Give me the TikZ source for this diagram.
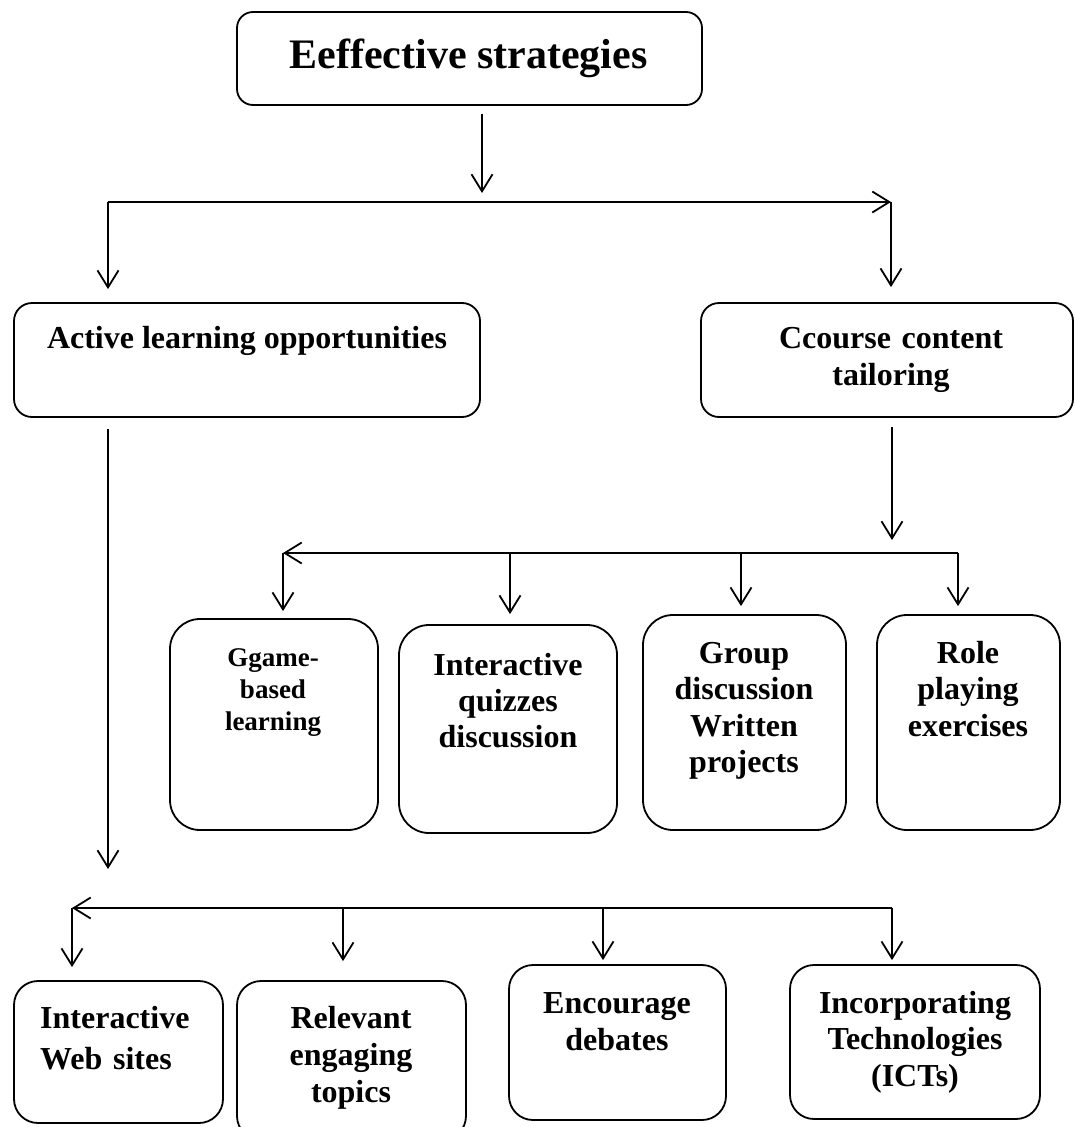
\documentclass[tikz,border=0pt]{standalone}
\usepackage{fontspec}
\setmainfont{Liberation Serif}
\usetikzlibrary{arrows.meta,calc}
\newcommand\fsz[2]{\fontsize{#1}{#2}\selectfont\bfseries}
\begin{document}
\begin{tikzpicture}[x=1pt,y=-1pt,
  box/.style={draw, line width=1.8pt, rounded corners=#1, inner sep=0pt},
  box/.default=20pt,
  con/.style={line width=1.8pt, -{Straight Barb[length=17pt,width=21pt]}},
  bar/.style={line width=2.8pt},
  txt/.style={inner sep=0pt, anchor=base, align=center}]
\useasboundingbox (0,0) rectangle (1075,1127);

% boxes
\node[box=16pt, minimum width=465pt, minimum height=93pt] (title) at (469.5,58.5) {};
\node[box=18pt, minimum width=466pt, minimum height=114pt] (active) at (247,360) {};
\node[box=18pt, minimum width=372pt, minimum height=114pt] (ccourse) at (887,360) {};
\node[box=30pt, minimum width=208pt, minimum height=211pt] (ggame) at (274,724.5) {};
\node[box=30pt, minimum width=218pt, minimum height=208pt] (quiz) at (508,729) {};
\node[box=30pt, minimum width=203pt, minimum height=215pt] (group) at (744.5,722.5) {};
\node[box=30pt, minimum width=183pt, minimum height=215pt] (role) at (968.5,722.5) {};
\node[box=24pt, minimum width=209pt, minimum height=142pt] (web) at (118.5,1052) {};
\node[box=24pt, minimum width=229pt, minimum height=159pt] (rel) at (351.5,1060.5) {};
\node[box=24pt, minimum width=217pt, minimum height=155pt] (enc) at (617.5,1042.5) {};
\node[box=24pt, minimum width=250pt, minimum height=154pt] (inc) at (915,1042) {};

% texts
\node[txt, font=\fsz{42}{50}] (titlet) at (468.5,68) {Eeffective strategies};
\node[txt, font=\fsz{32}{36}] (activet) at (247,348) {Active learning opportunities};
\node[txt, font=\fsz{32}{37}, text width=330pt] (ccourset) at (891,348) {Ccourse content\\tailoring};
\node[txt, font=\fsz{27}{32}, text width=200pt] (ggamet) at (273,666) {Ggame-\\based\\learning};
\node[txt, font=\fsz{32}{36}, text width=210pt] (quizt) at (508,675) {Interactive\\quizzes\\discussion};
\node[txt, font=\fsz{32}{36.5}, text width=200pt] (groupt) at (744,663) {Group\\discussion\\Written\\projects};
\node[txt, font=\fsz{32}{36.5}, text width=180pt] (rolet) at (968,663) {Role\\playing\\exercises};
\node[txt, font=\fsz{32}{41}, text width=180pt, align=left, anchor=base west] (webt) at (40,1028) {Interactive\\Web sites};
\node[txt, font=\fsz{32}{37}, text width=220pt] (relt) at (351,1028) {Relevant\\engaging\\topics};
\node[txt, font=\fsz{32}{37}, text width=210pt] (enct) at (617,1013) {Encourage\\debates};
\node[txt, font=\fsz{32}{36.5}, text width=240pt] (inct) at (915,1013) {Incorporating\\Technologies\\(ICTs)};

% junction coordinates
\coordinate (b1l) at (108,202);
\coordinate (b1r) at (891,202);
\coordinate (b1m) at (482,202);
\coordinate (b2l) at (283,553);
\coordinate (b2r) at (958,553);
\coordinate (b2m) at (892,553);
\coordinate (b2q) at (510,553);
\coordinate (b2g) at (741,553);
\coordinate (b3l) at (72,908);
\coordinate (b3r) at (892,908);
\coordinate (b3m) at (108,908);
\coordinate (b3r2) at (343,908);
\coordinate (b3e) at (603,908);

% level 1
\draw[con] ($(title.south -| b1m)+(0,8)$) -- ($(b1m)+(0,-9)$);
\draw[bar, con] (b1l) -- (b1r);
\draw[con] (b1l) -- ($(active.north -| b1l)+(0,-13)$);
\draw[con] (b1r) -- ($(ccourse.north -| b1r)+(0,-15)$);

% level 2 (course content)
\draw[con] ($(ccourse.south -| b2m)+(0,9)$) -- ($(b2m)+(0,-13)$);
\draw[bar, con] (b2r) -- (b2l);
\draw[con] (b2l) -- ($(ggame.north -| b2l)+(0,-7)$);
\draw[con] (b2q) -- ($(quiz.north -| b2q)+(0,-10)$);
\draw[con] (b2g) -- ($(group.north -| b2g)+(0,-8)$);
\draw[con] (b2r) -- ($(role.north -| b2r)+(0,-8)$);

% level 2 (active learning)
\draw[con] ($(active.south -| b3m)+(0,11)$) -- ($(b3m)+(0,-39)$);
\draw[bar, con] (b3r) -- (b3l);
\draw[con] (b3l) -- ($(web.north -| b3l)+(0,-13)$);
\draw[con] (b3r2) -- ($(rel.north -| b3r2)+(0,-19)$);
\draw[con] (b3e) -- ($(enc.north -| b3e)+(0,-4)$);
\draw[con] (b3r) -- ($(inc.north -| b3r)+(0,-4)$);
\end{tikzpicture}
\end{document}
